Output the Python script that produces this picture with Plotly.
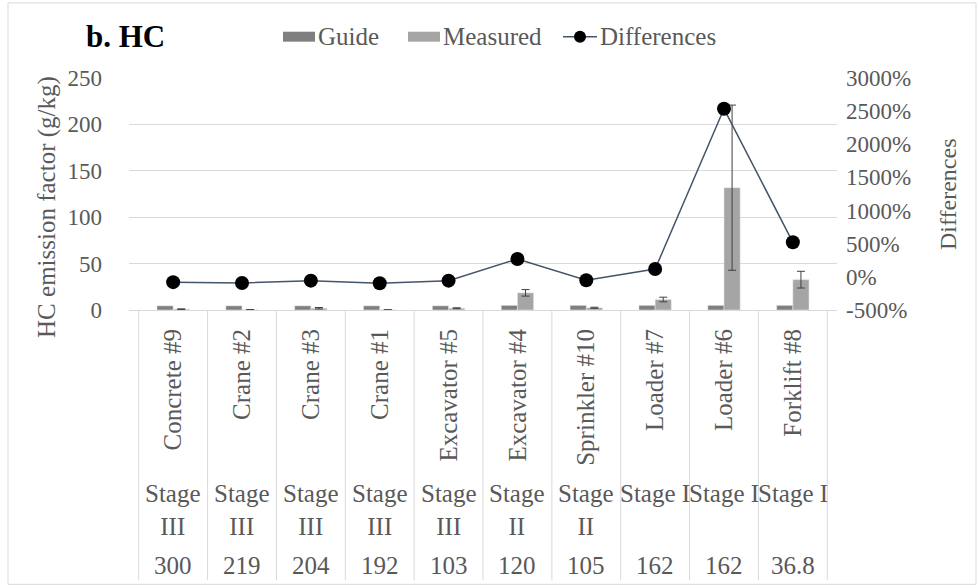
import plotly.graph_objects as go

categories = ["Concrete #9", "Crane #2", "Crane #3", "Crane #1", "Excavator #5",
              "Excavator #4", "Sprinkler #10", "Loader #7", "Loader #6", "Forklift #8"]
stages = ["Stage<br>III", "Stage<br>III", "Stage<br>III", "Stage<br>III", "Stage<br>III",
          "Stage<br>II", "Stage<br>II", "Stage I", "Stage I", "Stage I"]
powers = ["300", "219", "204", "192", "103", "120", "105", "162", "162", "36.8"]

guide = [4.5, 4.5, 4.5, 4.5, 4.5, 5.0, 5.0, 5.0, 5.0, 5.0]
measured = [0.9, 0.3, 1.9, 0.15, 1.9, 18.5, 2.4, 11.3, 131.8, 32.7]
measured_err = [0.3, 0.1, 0.8, 0.1, 0.5, 3.5, 0.6, 2.5, 89.0, 9.0]
differences = [-80, -93, -57, -97, -57, 270, -52, 118, 2535, 521]

FONT = "Liberation Serif"
TXT = "#595959"
GRID = "#d9d9d9"
GUIDE_C = "#7f7f7f"
MEAS_C = "#a5a5a5"
LINE_C = "#44546a"

# pixel geometry of plot area
L, R, T, B = 129, 837, 77.5, 310.5
W, H = R - L, B - T


def px(x):
    return (x - L) / W


def py(y):
    return (B - y) / H


fig = go.Figure()
fig.add_trace(go.Bar(x=categories, y=guide, name="Guide", marker_color=GUIDE_C,
                     showlegend=False))
fig.add_trace(go.Bar(x=categories, y=measured, name="Measured", marker_color=MEAS_C,
                     error_y=dict(type="data", array=measured_err, color="#404040",
                                  thickness=1, width=4),
                     showlegend=False))
fig.add_trace(go.Scatter(x=categories, y=differences, name="Differences", yaxis="y2",
                         mode="lines+markers",
                         line=dict(color=LINE_C, width=1.5),
                         marker=dict(color="black", size=14),
                         showlegend=False))

shapes = []
# table vertical dividers
for i in range(len(categories) + 1):
    shapes.append(dict(type="line", xref="x", yref="paper", x0=i - 0.5, x1=i - 0.5,
                       y0=0, y1=py(582), line=dict(color=GRID, width=1)))
# outer border
shapes.append(dict(type="rect", xref="paper", yref="paper", x0=px(8), x1=px(976),
                   y0=py(586), y1=py(2), line=dict(color=GRID, width=1)))
# custom legend swatches
shapes.append(dict(type="rect", xref="paper", yref="paper", x0=px(283), x1=px(315),
                   y0=py(41), y1=py(31), fillcolor=GUIDE_C, line=dict(width=0)))
shapes.append(dict(type="rect", xref="paper", yref="paper", x0=px(408), x1=px(440),
                   y0=py(41), y1=py(31), fillcolor=MEAS_C, line=dict(width=0)))
shapes.append(dict(type="line", xref="paper", yref="paper", x0=px(563), x1=px(597),
                   y0=py(36), y1=py(36), line=dict(color=LINE_C, width=1.5)))
shapes.append(dict(type="circle", xref="paper", yref="paper", x0=px(574), x1=px(586),
                   y0=py(42), y1=py(30), fillcolor="black", line=dict(width=0)))

ann = []
for i, (s, p) in enumerate(zip(stages, powers)):
    ann.append(dict(x=i, xref="x", y=py(479), yref="paper", text=s, showarrow=False,
                    xanchor="center", yanchor="top",
                    font=dict(family=FONT, size=25, color=TXT)))
    ann.append(dict(x=i, xref="x", y=py(567), yref="paper", text=p, showarrow=False,
                    xanchor="center", yanchor="middle",
                    font=dict(family=FONT, size=25, color=TXT)))
ann.append(dict(x=px(47), y=py(207), xref="paper", yref="paper",
                text="HC emission factor (g/kg)", textangle=-90, showarrow=False,
                xanchor="center", yanchor="middle",
                font=dict(family=FONT, size=25, color=TXT)))
ann.append(dict(x=px(948), y=py(194), xref="paper", yref="paper",
                text="Differences", textangle=-90, showarrow=False,
                xanchor="center", yanchor="middle",
                font=dict(family=FONT, size=24, color=TXT)))
ann.append(dict(x=px(84), y=py(36), xref="paper", yref="paper",
                text="<b>b. HC</b>", showarrow=False, xanchor="left", yanchor="middle",
                font=dict(family=FONT, size=31, color="black")))
for label, x0 in [("Guide", 316), ("Measured", 441), ("Differences", 598)]:
    ann.append(dict(x=px(x0), y=py(36), xref="paper", yref="paper", text=label,
                    showarrow=False, xanchor="left", yanchor="middle",
                    font=dict(family=FONT, size=25, color=TXT)))

fig.update_layout(
    width=978, height=588,
    margin=dict(l=L, r=978 - R, t=T, b=588 - B, autoexpand=False),
    paper_bgcolor="white", plot_bgcolor="white",
    barmode="group", bargap=0.53, bargroupgap=0,
    showlegend=False,
    font=dict(family=FONT, size=23, color=TXT),
    xaxis=dict(type="category", tickangle=-90, showline=True, linecolor=GRID,
               linewidth=1, showgrid=False, ticks="", automargin=False,
               tickfont=dict(family=FONT, size=25, color=TXT), ticklabelstandoff=8),
    yaxis=dict(range=[0, 250], tickvals=[0, 50, 100, 150, 200, 250], showgrid=True,
               gridcolor=GRID, gridwidth=1, zeroline=False, showline=False, ticks="",
               automargin=False, ticklabelstandoff=26,
               tickfont=dict(family=FONT, size=23, color=TXT)),
    yaxis2=dict(range=[-500, 3000], tickvals=[-500, 0, 500, 1000, 1500, 2000, 2500, 3000],
                ticktext=["-500%", "0%", "500%", "1000%", "1500%", "2000%", "2500%", "3000%"],
                overlaying="y", side="right", showgrid=False, zeroline=False,
                showline=False, ticks="", automargin=False, ticklabelstandoff=8,
                tickfont=dict(family=FONT, size=23, color=TXT)),
    shapes=shapes,
    annotations=ann,
)

fig.write_html("out.html")
